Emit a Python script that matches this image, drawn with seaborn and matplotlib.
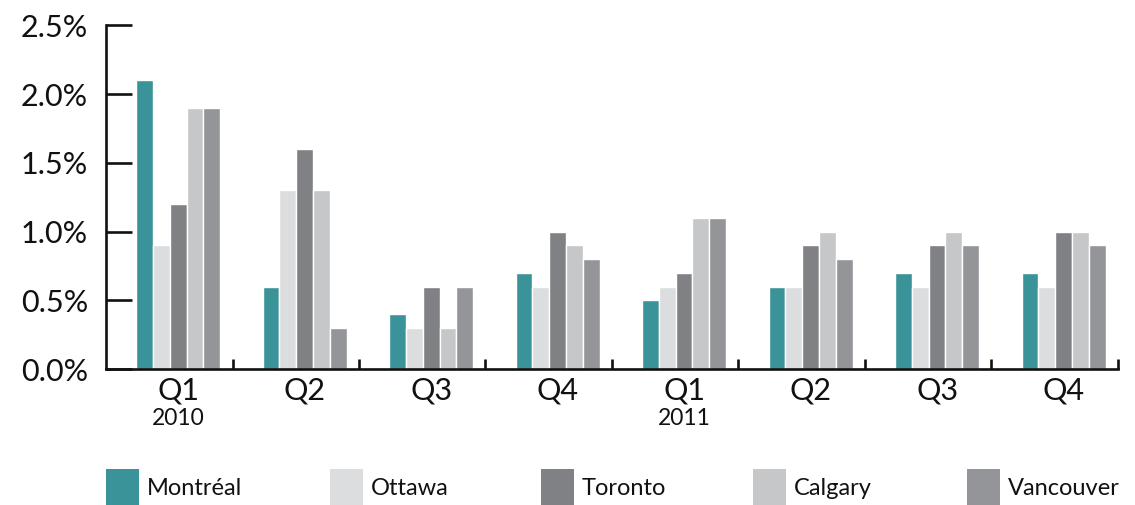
import matplotlib
matplotlib.use("Agg")
import matplotlib.pyplot as plt
import matplotlib.transforms as mtransforms
from matplotlib.patches import Patch
import seaborn as sns
import pandas as pd

# Quarterly values (%) by city
quarters = ["Q1", "Q2", "Q3", "Q4", "Q1 ", "Q2 ", "Q3 ", "Q4 "]
quarter_labels = ["Q1", "Q2", "Q3", "Q4", "Q1", "Q2", "Q3", "Q4"]
years = {0: "2010", 4: "2011"}
cities = ["Montréal", "Ottawa", "Toronto", "Calgary", "Vancouver"]
montreal = [2.1, 0.6, 0.4, 0.7, 0.5, 0.6, 0.7, 0.7]
ottawa = [0.9, 1.3, 0.3, 0.6, 0.6, 0.6, 0.6, 0.6]
toronto = [1.2, 1.6, 0.6, 1.0, 0.7, 0.9, 0.9, 1.0]
calgary = [1.9, 1.3, 0.3, 0.9, 1.1, 1.0, 1.0, 1.0]
vancouver = [1.9, 0.3, 0.6, 0.8, 1.1, 0.8, 0.9, 0.9]
colors = ["#3A9399", "#DCDDDF", "#808184", "#C6C7C9", "#949599"]

series = [montreal, ottawa, toronto, calgary, vancouver]
df = pd.DataFrame(
    [(q, c, v) for c, vals in zip(cities, series) for q, v in zip(quarters, vals)],
    columns=["quarter", "city", "value"],
)

sns.set_theme(style="white")
plt.rcParams["font.family"] = ["Lato", "DejaVu Sans"]

fig = plt.figure(figsize=(11.35, 5.05), dpi=100)
ax = fig.add_axes([0.0934, 0.269, 0.8916, 0.681])

sns.barplot(
    data=df, x="quarter", y="value", hue="city", order=quarters, hue_order=cities,
    palette=colors, width=0.664, gap=0, edgecolor="white", linewidth=1.0,
    saturation=1, errorbar=None, legend=False, ax=ax,
)

ax.set_xlim(-0.57, 7.43)
ax.set_ylim(0, 2.5)
ax.set_xlabel("")
ax.set_ylabel("")

for side in ["top", "right"]:
    ax.spines[side].set_visible(False)
for side in ["left", "bottom"]:
    ax.spines[side].set_linewidth(1.9)
    ax.spines[side].set_color("#111111")

ax.set_yticks([0, 0.5, 1.0, 1.5, 2.0, 2.5])
ax.set_yticklabels([f"{v:.1f}%" for v in [0, 0.5, 1.0, 1.5, 2.0, 2.5]])
ax.tick_params(axis="y", left=True, direction="in", length=19, width=1.9,
               color="#111111", pad=13, labelsize=22, labelcolor="#111111")

ax.set_xticks(range(len(quarters)))
ax.set_xticklabels(quarter_labels)
ax.tick_params(axis="x", which="major", bottom=True, length=0, pad=5,
               labelsize=22, labelcolor="#111111")
ax.set_xticks([i + 0.43 for i in range(len(quarters))], minor=True)
ax.tick_params(axis="x", which="minor", bottom=True, direction="in", length=7,
               width=1.9, color="#111111")

trans = mtransforms.blended_transform_factory(ax.transData, fig.transFigure)
for i, yr in years.items():
    ax.text(i, 0.172, yr, transform=trans, ha="center", va="center",
            fontsize=16.5, color="#111111")

# Legend: one entry per city, evenly spaced along the bottom
legend_x = [106, 330, 541, 753, 967]
for name, col, x in zip(cities, colors, legend_x):
    leg = fig.legend(
        handles=[Patch(facecolor=col, edgecolor="none")], labels=[name],
        loc="lower left", bbox_to_anchor=(x / 1135, 0.0), frameon=False,
        fontsize=17, handlelength=1.38, handleheight=1.95, handletextpad=0.35,
        borderpad=0, borderaxespad=0,
    )
    for t in leg.get_texts():
        t.set_color("#111111")

fig.savefig("out.png", dpi=100)
